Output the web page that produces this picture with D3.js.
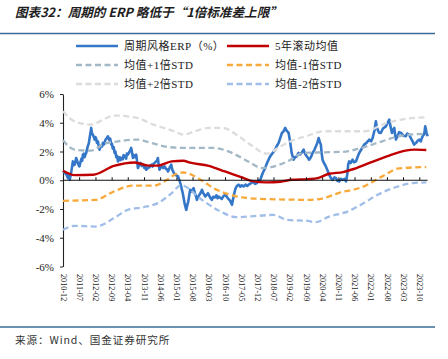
<!DOCTYPE html>
<html><head><meta charset="utf-8">
<script src="https://cdn.jsdelivr.net/npm/d3@7"></script>
<style>body{margin:0;background:#fff;} svg{display:block;}</style>
</head><body>
<script>
const titleText = "图表32：周期的 ERP 略低于“1倍标准差上限”";
const sourceText = "来源：Wind、国金证券研究所";
const seriesNames = ["周期风格ERP（%）","5年滚动均值","均值+1倍STD","均值-1倍STD","均值+2倍STD","均值-2倍STD"];
const seriesColors = ["#3476C8","#C00000","#A3B8C6","#F8A93A","#DCDCDC","#A0BEE8"];
const xTickLabels = ["2010-12","2011-07","2012-02","2012-09","2013-04","2013-11","2014-06","2015-01","2015-08","2016-03","2016-10","2017-05","2017-12","2018-07","2019-02","2019-09","2020-04","2020-11","2021-06","2022-01","2022-08","2023-03","2023-10"];
const yTicks = [6,4,2,0,-2,-4,-6];

const erp = [
["2010-12-05",0.66],["2010-12-25",0.5],["2011-01-10",0.45],["2011-01-22",0.3],["2011-02-05",0.15],["2011-02-15",0.4],["2011-02-28",0.03],["2011-03-20",0.6],
["2011-04-01",1.0],["2011-04-10",1.31],["2011-04-22",1.05],["2011-05-05",1.1],["2011-05-23",1.55],["2011-06-05",1.35],["2011-06-15",1.2],["2011-06-28",1.0],["2011-07-06",0.96],
["2011-07-20",1.3],["2011-08-01",1.5],["2011-08-10",1.35],["2011-08-20",1.78],["2011-09-01",1.85],["2011-09-10",1.6],["2011-09-20",1.75],["2011-10-02",1.9],["2011-10-15",2.2],["2011-10-25",2.4],
["2011-11-05",2.55],["2011-11-16",2.94],["2011-11-28",3.3],["2011-12-07",3.64],["2011-12-16",3.3],["2011-12-25",3.2],["2012-01-08",3.05],["2012-01-21",2.83],["2012-02-01",3.0],["2012-02-10",2.9],
["2012-02-20",2.6],["2012-03-04",2.71],["2012-03-15",2.35],["2012-03-26",2.13],["2012-04-05",2.3],["2012-04-15",2.4],["2012-04-28",2.35],["2012-05-09",2.6],["2012-05-25",2.5],["2012-06-10",2.8],["2012-06-25",2.9],
["2012-07-14",3.06],["2012-07-22",2.95],["2012-08-01",2.8],["2012-08-12",2.9],["2012-08-27",2.48],["2012-09-05",2.55],["2012-09-15",2.2],["2012-09-28",2.3],["2012-10-10",1.9],["2012-10-20",2.0],
["2012-11-01",1.6],["2012-11-12",1.7],["2012-11-23",1.31],["2012-12-05",1.45],["2012-12-15",1.6],["2012-12-25",1.4],["2013-01-06",1.55],["2013-01-25",1.45],["2013-02-05",1.75],["2013-02-20",1.66],["2013-03-10",1.5],
["2013-03-20",1.85],["2013-04-03",1.78],["2013-04-20",1.95],["2013-05-05",2.1],["2013-05-16",2.25],["2013-05-28",1.9],["2013-06-08",1.55],["2013-06-20",1.75],["2013-07-08",1.6],["2013-07-21",1.78],["2013-08-02",1.3],["2013-08-13",0.85],
["2013-08-28",1.1],["2013-09-15",1.2],["2013-10-01",1.0],["2013-10-17",1.08],["2013-11-05",0.85],["2013-11-18",0.95],["2013-12-01",0.73],["2013-12-20",0.85],["2014-01-10",0.9],["2014-01-22",1.0],["2014-02-05",1.08],
["2014-02-20",0.95],["2014-03-05",1.15],["2014-03-19",1.2],["2014-04-05",1.3],["2014-04-20",1.35],["2014-05-02",1.55],["2014-05-12",1.1],["2014-05-24",0.73],["2014-06-08",0.9],["2014-06-20",1.0],["2014-07-10",0.85],["2014-07-29",0.96],
["2014-08-15",0.8],["2014-09-01",0.75],["2014-09-12",0.61],["2014-09-28",0.8],["2014-10-10",0.95],["2014-10-25",1.08],["2014-11-10",0.7],["2014-11-25",0.55],["2014-12-09",0.38],["2014-12-28",0.35],["2015-01-22",0.27],["2015-02-10",0.0],["2015-03-04",-0.43],
["2015-03-25",-0.89],["2015-04-18",-1.59],["2015-05-10",-2.06],["2015-05-25",-1.7],["2015-06-05",-1.5],["2015-06-20",-1.0],["2015-07-01",-0.66],["2015-07-20",-0.8],
["2015-08-15",-0.55],["2015-09-01",-0.9],["2015-09-15",-1.1],["2015-09-28",-1.36],["2015-10-15",-1.15],["2015-11-01",-1.0],["2015-11-18",-0.85],["2015-12-03",-0.66],["2015-12-20",-0.9],["2016-01-16",-1.13],
["2016-02-05",-1.0],["2016-02-20",-0.9],["2016-03-10",-1.1],["2016-03-25",-1.25],["2016-04-12",-1.36],["2016-04-28",-1.15],["2016-05-20",-1.2],["2016-06-10",-1.05],["2016-06-25",-1.25],["2016-07-09",-1.13],["2016-07-25",-1.2],["2016-08-20",-1.3],
["2016-09-10",-1.1],["2016-10-05",-1.01],["2016-10-25",-1.15],["2016-11-15",-1.3],["2016-12-05",-1.4],["2017-01-01",-1.71],["2017-01-18",-1.24],["2017-02-05",-0.8],["2017-02-15",-0.6],["2017-03-05",-0.4],
["2017-03-28",-0.31],["2017-04-20",-0.45],["2017-05-10",-0.35],["2017-06-03",-0.43],["2017-07-01",-0.3],["2017-07-20",-0.4],["2017-08-08",-0.31],["2017-09-10",-0.2],["2017-10-10",-0.1],["2017-11-01",-0.25],["2017-11-25",-0.2],
["2017-12-15",-0.05],["2018-01-08",0.03],["2018-02-10",0.5],["2018-03-13",0.85],["2018-04-15",1.3],["2018-05-18",1.66],["2018-06-20",1.9],["2018-07-23",2.13],["2018-08-15",2.4],["2018-09-07",2.6],
["2018-09-25",2.9],["2018-10-20",3.29],["2018-11-10",3.4],["2018-12-02",3.64],["2018-12-20",3.45],["2019-01-16",3.29],["2019-02-07",2.6],["2019-02-25",1.9],["2019-03-22",1.43],["2019-04-10",1.6],
["2019-05-04",1.66],["2019-05-25",1.9],["2019-06-16",1.78],["2019-07-10",1.95],["2019-08-01",2.13],["2019-08-20",1.85],["2019-09-13",1.66],["2019-10-13",1.43],["2019-11-05",1.6],
["2019-11-27",1.9],["2019-12-20",2.1],["2020-01-10",2.36],["2020-01-28",2.6],["2020-02-15",2.94],["2020-02-28",2.7],["2020-03-15",2.48],["2020-03-25",1.9],["2020-04-06",1.43],["2020-04-25",1.2],
["2020-05-20",0.96],["2020-06-10",0.7],["2020-07-03",0.38],["2020-07-25",0.15],["2020-08-17",0.03],["2020-09-10",0.2],["2020-10-01",0.15],["2020-10-20",-0.05],["2020-11-13",-0.08],["2020-12-05",0.1],
["2020-12-28",0.03],["2021-01-20",0.1],["2021-02-09",-0.08],["2021-02-25",0.4],["2021-03-10",1.1],["2021-03-23",1.31],["2021-04-10",1.2],["2021-05-06",1.43],["2021-05-25",1.25],["2021-06-19",1.31],
["2021-07-10",1.6],["2021-08-01",1.9],["2021-08-25",2.1],["2021-09-15",2.3],["2021-10-06",2.48],["2021-11-05",2.6],["2021-12-12",2.83],["2022-01-05",2.7],["2022-01-25",2.94],["2022-02-20",3.5],["2022-03-09",4.1],
["2022-03-20",3.7],["2022-04-01",3.52],["2022-04-20",3.3],["2022-05-13",3.29],["2022-06-10",3.6],["2022-07-18",3.75],["2022-08-10",4.0],["2022-09-01",4.22],["2022-09-15",3.8],["2022-10-06",3.29],
["2022-10-20",3.5],["2022-11-06",3.64],["2022-11-16",3.2],["2022-11-28",2.83],["2022-12-20",3.1],["2023-01-10",3.35],["2023-02-02",3.29],["2023-03-05",3.1],["2023-04-07",3.06],["2023-04-25",3.25],["2023-05-20",3.17],
["2023-06-15",2.9],["2023-07-05",2.7],["2023-07-25",2.48],["2023-08-20",2.6],["2023-09-10",2.75],["2023-10-01",2.83],["2023-10-20",2.7],["2023-11-13",3.06],["2023-12-05",3.2],["2023-12-18",3.75],["2024-01-05",3.3],["2024-01-18",3.06]
];
const mean5y = [
["2010-12",0.66],["2011-05",0.36],["2012-01",0.38],["2012-10",1.0],["2013-07",1.24],["2014-01",1.02],
["2014-05",1.02],["2014-11",1.31],["2015-04",1.36],["2015-07",1.22],["2016-03",1.0],["2016-10",0.61],
["2017-05",0.22],["2017-10",-0.06],["2018-04",-0.15],["2018-10",-0.1],["2019-03",0.03],["2019-10",0.08],
["2020-02",0.15],["2020-07",0.45],["2021-01",0.57],["2021-06",0.8],["2022-01",1.24],["2022-09",1.71],
["2023-04",2.06],["2023-08",2.13],["2024-01",2.1]
];
const plus1 = [
["2010-12",2.78],["2011-05",2.13],["2011-12",2.06],["2012-06",2.55],["2012-11",2.69],["2013-08",2.83],
["2014-02",2.6],["2014-09",2.32],["2015-04",2.25],["2016-05",2.25],["2017-01",1.9],["2017-08",1.31],
["2018-02",0.85],["2018-06",0.92],["2019-01",1.31],["2019-08",1.9],["2020-05",1.94],["2021-02",1.99],
["2021-09",2.25],["2022-06",2.71],["2023-01",3.06],["2024-01",3.24]
];
const minus1 = [
["2010-12",-1.43],["2012-02",-1.36],["2012-10",-0.78],["2013-06",-0.38],["2014-03",-0.38],["2014-09",0.03],
["2015-01",0.45],["2015-04",0.54],["2015-12",-0.01],["2016-05",-0.54],["2017-02",-1.08],["2017-08",-1.24],
["2018-04",-1.31],["2019-10",-1.36],["2020-04",-1.27],["2020-11",-0.89],["2021-10",-0.43],["2022-06",0.27],
["2023-01",0.82],["2024-01",0.92]
];
const plus2 = [
["2010-12",4.8],["2011-05",4.1],["2011-12",3.87],["2012-07",4.34],["2012-10",4.5],["2013-08",4.34],
["2014-03",3.87],["2014-12",3.41],["2015-04",3.17],["2015-09",3.41],["2016-03",3.64],["2016-09",3.64],
["2017-03",3.17],["2017-10",2.36],["2018-04",1.85],["2018-10",2.36],["2019-05",2.87],["2019-09",3.06],
["2020-05",3.41],["2021-02",3.41],["2021-10",3.41],["2022-08",3.99],["2023-04",4.27],["2024-01",4.38]
];
const minus2 = [
["2010-12",-3.45],["2011-05",-3.17],["2012-02",-3.22],["2012-10",-2.64],["2013-04",-2.06],["2013-11",-1.87],
["2014-05",-1.59],["2014-11",-0.89],["2015-03",-0.35],["2015-12",-1.36],["2016-08",-2.17],["2017-03",-2.57],
["2017-12",-2.48],["2018-07",-2.41],["2019-01",-2.76],["2019-10",-2.83],["2020-01",-2.92],["2020-07",-2.53],
["2021-03",-2.18],["2021-10",-1.59],["2022-04",-1.01],["2022-12",-0.47],["2023-07",-0.2],["2024-01",-0.15]
];

const W = 448, H = 359;
const serif = "'Liberation Serif','Times New Roman','Noto Sans CJK SC',serif";
const svg = d3.select("body").append("svg").attr("width", W).attr("height", H);

const pDay = d3.timeParse("%Y-%m-%d"), pMon = d3.timeParse("%Y-%m");
const x = d3.scaleTime().domain([pMon("2010-12"), pMon("2023-10")]).range([63, 419.3]);
const y = d3.scaleLinear().domain([-6, 6]).range([266.5, 94]);

// title & frame lines
svg.append("text").attr("x", 15).attr("y", 11.5).attr("dominant-baseline", "central")
  .attr("font-family", "'Noto Sans CJK SC',sans-serif").attr("font-size", 12.6)
  .attr("font-weight", "bold").attr("font-style", "italic").attr("fill", "#1e1e1e").text(titleText);
svg.append("line").attr("x1", 0).attr("x2", 435).attr("y1", 33.5).attr("y2", 33.5)
  .attr("stroke", "#3A6C98").attr("stroke-width", 1.6);
svg.append("line").attr("x1", 0).attr("x2", 435).attr("y1", 327).attr("y2", 327)
  .attr("stroke", "#3A6C98").attr("stroke-width", 1.6);
svg.append("text").attr("x", 15).attr("y", 339.5).attr("dominant-baseline", "central")
  .attr("font-family", "'Noto Sans CJK SC',sans-serif").attr("font-size", 10.6).attr("letter-spacing", 0.9)
  .attr("fill", "#333").text(sourceText);

// legend
const legendPos = [[76,46],[227,46],[76,65],[227,65],[76,84],[227,84]];
const dashes = [null, null, "6,3.5", "6,3.5", "6,3.5", "6,3.5"];
const lg = svg.append("g");
seriesNames.forEach((n, i) => {
  const [lx, ly] = legendPos[i];
  lg.append("line").attr("x1", lx).attr("x2", lx + 42).attr("y1", ly).attr("y2", ly)
    .attr("stroke", seriesColors[i]).attr("stroke-width", 2.6)
    .attr("stroke-dasharray", dashes[i]);
  lg.append("text").attr("x", lx + 48).attr("y", ly).attr("dominant-baseline", "central")
    .attr("font-family", serif).attr("font-size", 11).attr("letter-spacing", 0.5)
    .attr("fill", "#222").text(n);
});

// y axis
const yAxis = svg.append("g").attr("transform", "translate(63,0)")
  .call(d3.axisLeft(y).tickValues(yTicks).tickSize(3).tickSizeOuter(0).tickPadding(6)
    .tickFormat(d => d + "%"));
yAxis.select(".domain").attr("stroke", "#222").attr("stroke-width", 1.1);
yAxis.selectAll(".tick line").attr("stroke", "#222");
yAxis.selectAll("text").attr("font-family", serif).attr("font-size", 11).attr("fill", "#222");

// series lines
const lineDay = d3.line().x(d => x(pDay(d[0]))).y(d => y(d[1])).curve(d3.curveLinear);
const lineMon = d3.line().x(d => x(pMon(d[0]))).y(d => y(d[1])).curve(d3.curveMonotoneX);
const plot = svg.append("g").attr("fill", "none");
plot.append("path").attr("d", lineDay(erp)).attr("stroke", seriesColors[0]).attr("stroke-width", 2.6)
  .attr("stroke-linejoin", "round");
plot.append("path").attr("d", lineMon(mean5y)).attr("stroke", seriesColors[1]).attr("stroke-width", 2.4);
[[plus1,2],[minus1,3],[plus2,4],[minus2,5]].forEach(([data, i]) => {
  plot.append("path").attr("d", lineMon(data)).attr("stroke", seriesColors[i])
    .attr("stroke-width", 2.3).attr("stroke-dasharray", "6,3.5");
});

// x axis at zero line
const tickDates = xTickLabels.map(pMon);
const lastDate = pDay(erp[erp.length - 1][0]);
svg.append("line").attr("x1", 63).attr("x2", x(lastDate)).attr("y1", y(0)).attr("y2", y(0))
  .attr("stroke", "#111").attr("stroke-width", 1.2);
const xTicksG = svg.append("g").attr("transform", `translate(0,${y(0)})`)
  .call(d3.axisTop(x).tickValues(tickDates).tickSize(3).tickFormat(""));
xTicksG.select(".domain").remove();
xTicksG.selectAll(".tick line").attr("stroke", "#111");

// x labels at bottom
const xLab = svg.append("g").attr("transform", "translate(0,271)")
  .call(d3.axisBottom(x).tickValues(tickDates).tickSize(0).tickFormat((d, i) => xTickLabels[i]));
xLab.select(".domain").remove();
xLab.selectAll("text").attr("transform", "rotate(90)").attr("x", 3).attr("y", 0).attr("dy", "0.35em")
  .attr("text-anchor", "start").attr("font-family", serif).attr("font-size", 8.2).attr("fill", "#222");
</script>
</body></html>
